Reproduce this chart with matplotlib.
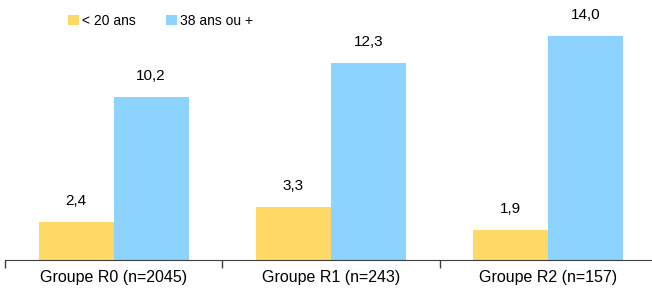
import matplotlib.pyplot as plt
import numpy as np

plt.rcParams['font.family'] = ['Liberation Sans', 'DejaVu Sans']

# Données
groupes = ['Groupe R0 (n=2045)', 'Groupe R1 (n=243)', 'Groupe R2 (n=157)']
moins_20 = [2.4, 3.3, 1.9]
plus_38 = [10.2, 12.3, 14.0]
series = ['< 20 ans', '38 ans ou +']
couleurs = ['#FFD966', '#8DD3FF']

fig = plt.figure(figsize=(6.52, 2.93), dpi=100)
ax = fig.add_axes([5 / 652, 33 / 293, 652 / 652, 260 / 293])

x = np.arange(len(groupes))
w = 0.345
b1 = ax.bar(x - w / 2, moins_20, w, color=couleurs[0], label=series[0])
b2 = ax.bar(x + w / 2, plus_38, w, color=couleurs[1], label=series[1])

for bars, vals in ((b1, moins_20), (b2, plus_38)):
    for r, v in zip(bars, vals):
        ax.annotate(f'{v:.1f}'.replace('.', ','),
                    (r.get_x() + r.get_width() / 2, v),
                    xytext=(0, 10), textcoords='offset points',
                    ha='center', va='bottom', fontsize=11)

ax.set_xlim(-0.5, 2.5)
ax.set_ylim(0, 16.25)
ax.set_xticks(x)
ax.set_xticklabels(groupes, fontsize=11.5)
ax.tick_params(axis='x', length=0, pad=7)
ax.set_xticks([-0.5, 0.5, 1.5, 2.5], minor=True)
ax.tick_params(axis='x', which='minor', length=6, width=1, color='#404040')
ax.set_yticks([])
for s in ['top', 'right', 'left']:
    ax.spines[s].set_visible(False)
ax.spines['bottom'].set_color('#404040')

ax.legend(loc='upper left', bbox_to_anchor=(52 / 652, 0.99), ncol=2,
          frameon=False, fontsize=10, handlelength=0.8, handleheight=0.8,
          handletextpad=0.2, columnspacing=2.2, borderaxespad=0.4)

plt.savefig('out.png', dpi=100)
